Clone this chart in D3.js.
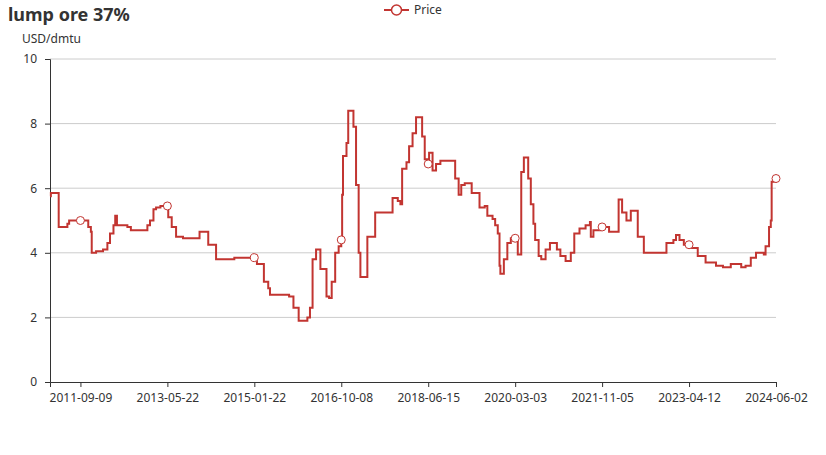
<!DOCTYPE html>
<html><head><meta charset="utf-8">
<script src="https://cdn.jsdelivr.net/npm/d3@7"></script>
<style>body{margin:0;background:#fff;font-family:"Microsoft YaHei","Noto Sans",sans-serif;}</style>
</head><body><svg id="c" width="826" height="455"></svg>
<script>
const title = "lump ore 37%";
const unit = "USD/dmtu";
const seriesName = "Price";
const pointCount = 836;
const tickIdx = [35,135,235,335,435,535,635,735,835];
const tickLabels = ["2011-09-09","2013-05-22","2015-01-22","2016-10-08","2018-06-15","2020-03-03","2021-11-05","2023-04-12","2024-06-02"];
const yTicks = [0,2,4,6,8,10];
// step change points: [index, price]
const stepIdx = [0,1,10,20,22,40,44,47,48,53,61,66,69,73,75,77,89,93,112,115,119,122,127,136,140,145,153,172,182,191,212,225,238,246,251,253,275,280,286,296,299,302,306,311,318,321,324,328,332,335,336,337,341,343,349,352,355,357,365,374,393,394,400,403,405,410,413,417,421,428,431,435,436,440,444,449,463,466,470,473,477,485,494,500,503,509,512,515,517,518,522,526,530,538,542,545,550,553,556,558,562,565,570,575,583,587,593,599,603,609,616,621,622,625,633,643,651,654,658,663,668,676,683,702,709,717,720,724,729,736,745,754,766,774,783,795,800,806,812,821,823,827,829,830,835];
const stepVal = [5.75,5.85,4.8,4.9,5.0,5.0,4.8,4.65,4.0,4.05,4.1,4.3,4.6,4.85,5.15,4.85,4.8,4.7,4.85,5.0,5.35,5.4,5.45,5.1,4.8,4.5,4.45,4.65,4.25,3.8,3.85,3.85,3.65,3.1,2.9,2.7,2.65,2.3,1.9,2.0,2.3,3.8,4.1,3.5,2.65,2.6,3.1,4.0,4.2,4.4,5.8,7.0,7.4,8.4,7.9,6.1,4.0,3.25,4.5,5.25,5.25,5.7,5.6,5.5,6.6,6.8,7.3,7.7,8.2,7.6,6.9,6.75,7.1,6.55,6.75,6.85,6.85,6.3,5.8,6.1,6.15,5.85,5.4,5.45,5.15,5.05,4.85,4.6,3.6,3.35,3.8,4.3,4.45,3.95,6.5,6.95,6.3,5.5,4.9,4.4,3.9,3.8,4.1,4.3,4.1,3.9,3.75,4.0,4.6,4.75,4.85,4.95,4.5,4.7,4.8,4.65,4.65,5.65,5.25,5.0,5.3,4.5,4.0,4.0,4.3,4.4,4.55,4.4,4.25,4.15,3.9,3.7,3.6,3.55,3.65,3.55,3.6,3.85,4.0,3.95,4.2,4.8,5.0,6.2,6.3];

const color = "#c23531";
const svg = d3.select("#c");
const m = {l:50, r:776, t:59, b:382};
const x = d3.scaleLinear().domain([0, pointCount-1]).range([m.l, m.r]);
const y = d3.scaleLinear().domain([0,10]).range([m.b, m.t]);
const pts = stepIdx.map((d,i)=>[d, stepVal[i]]);
const valAt = i => { let v = stepVal[0]; stepIdx.forEach((d,k)=>{ if (d<=i) v = stepVal[k]; }); return v; };

svg.append("g").selectAll("line").data(yTicks.filter(t=>t>0)).join("line")
  .attr("x1",m.l).attr("x2",m.r).attr("y1",d=>y(d)).attr("y2",d=>y(d)).attr("stroke","#ccc");

const ya = svg.append("g").attr("transform",`translate(${m.l},0)`)
  .call(d3.axisLeft(y).tickValues(yTicks).tickSize(5).tickPadding(8));
ya.select(".domain").attr("stroke","#333");
ya.selectAll(".tick line").attr("stroke","#333");
ya.selectAll("text").attr("fill","#333").style("font-size","12px").style("font-family","Microsoft YaHei, Noto Sans, sans-serif");

const xa = svg.append("g").attr("transform",`translate(0,${m.b})`)
  .call(d3.axisBottom(x).tickValues(tickIdx).tickFormat((d,i)=>tickLabels[i]).tickSize(5).tickPadding(6));
xa.select(".domain").attr("stroke","#333");
xa.selectAll(".tick line").attr("stroke","#333");
xa.selectAll("text").attr("fill","#333").style("font-size","12px").style("font-family","Microsoft YaHei, Noto Sans, sans-serif");

svg.append("path").datum(pts)
  .attr("d", d3.line().x(d=>x(d[0])).y(d=>y(d[1])).curve(d3.curveStepAfter))
  .attr("fill","none").attr("stroke",color).attr("stroke-width",2);

svg.append("g").selectAll("circle").data(tickIdx).join("circle")
  .attr("cx",d=>x(d)).attr("cy",d=>y(valAt(d))).attr("r",4)
  .attr("fill","#fff").attr("stroke",color).attr("stroke-width",1);

svg.append("text").attr("x",8).attr("y",21).text(title)
  .attr("font-size","18px").attr("font-weight","bold").attr("fill","#333");
svg.append("text").attr("x",22).attr("y",43).text(unit).attr("font-size","12px").attr("fill","#333");

const lg = svg.append("g");
lg.append("line").attr("x1",384).attr("x2",409).attr("y1",10).attr("y2",10).attr("stroke",color).attr("stroke-width",2);
lg.append("circle").attr("cx",396.5).attr("cy",10).attr("r",5).attr("fill","#fff").attr("stroke",color).attr("stroke-width",1.5);
lg.append("text").attr("x",414).attr("y",14).text(seriesName).attr("font-size","12px").attr("fill","#333");
</script></body></html>
